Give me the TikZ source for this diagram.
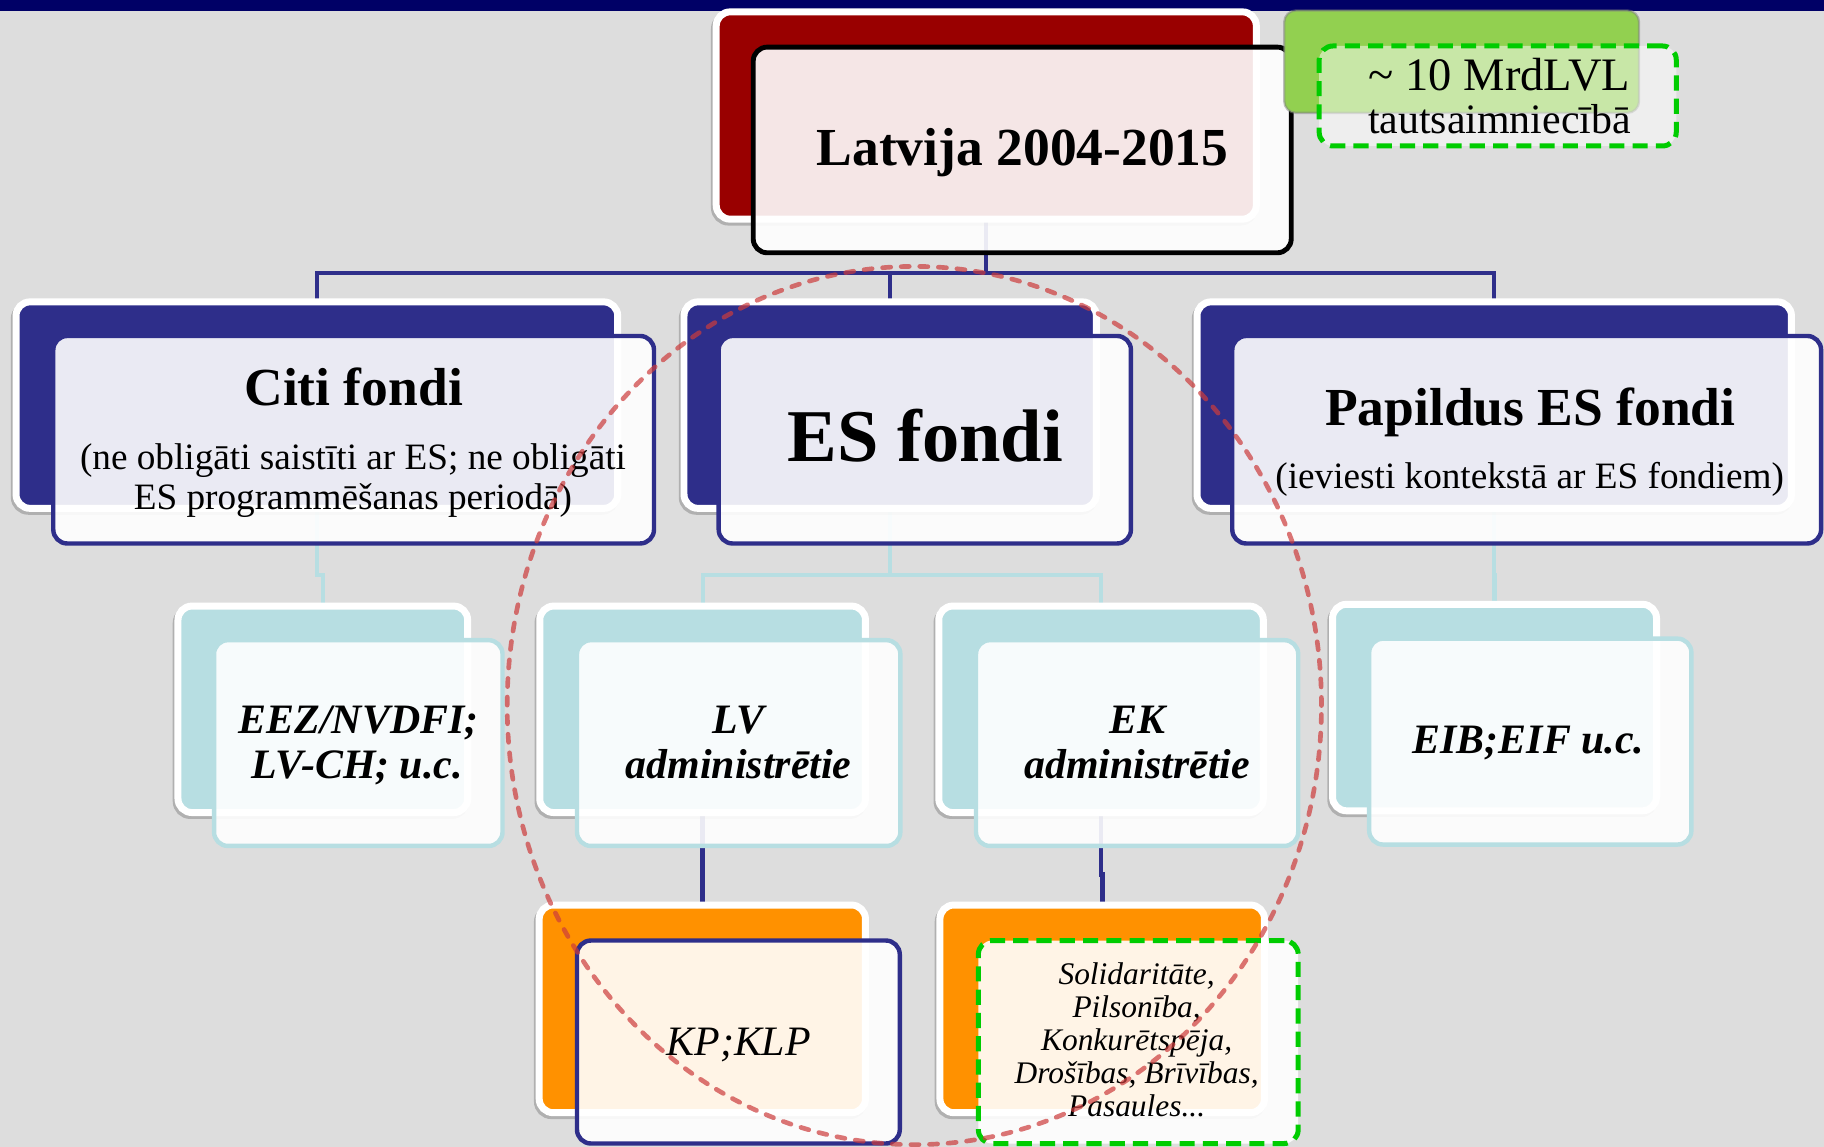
\documentclass[tikz,border=0pt]{standalone}
\usepackage{fontspec}
\setmainfont{Liberation Serif}
\usetikzlibrary{shadows}
\pgfdeclarelayer{bgl}
\pgfdeclarelayer{conn}
\pgfsetlayers{bgl,conn,main}
\definecolor{navybar}{RGB}{0,0,102}
\definecolor{bggray}{RGB}{221,221,221}
\definecolor{navyb}{RGB}{46,46,138}
\definecolor{darkredb}{RGB}{153,0,0}
\definecolor{lgreen}{RGB}{146,208,80}
\definecolor{dgreen}{RGB}{0,204,0}
\definecolor{cyanb}{RGB}{183,222,226}
\definecolor{orangeb}{RGB}{255,145,0}
\definecolor{circred}{RGB}{204,60,60}
\newcommand{\myfs}[1]{\fontsize{#1}{#1}\selectfont}
\newcommand{\mybox}[6]{\node[#1, minimum width={#4-#2}, minimum height={#5-#3}] (#6) at ({(#2+#4)/2},{(#3+#5)/2}) {};}
\tikzset{
 shape box/.style={rectangle, rounded corners=12pt, inner sep=0pt, outer sep=0pt},
 backbox/.style={shape box, draw=white, line width=6pt, drop shadow={shadow xshift=-1.5pt, shadow yshift=-2.5pt, opacity=0.2, fill=black, draw=black, line width=6pt}},
 frontbox/.style={shape box, line width=3.8pt, fill=white, fill opacity=0.9},
 txt/.style={anchor=base, inner sep=0pt, outer sep=0pt, text=black},
 navyline/.style={draw=navyb, line width=3.5pt},
 cyanline/.style={draw=cyanb, line width=3.5pt},
 greendash/.style={draw=dgreen, line width=4.3pt, dash pattern=on 13pt off 7pt},
}
\begin{document}
\begin{tikzpicture}[x=1pt,y=-1pt]
\useasboundingbox (0,0) rectangle (1568,986);
\begin{pgfonlayer}{bgl}
\fill[bggray] (0,0) rectangle (1568,986);
\fill[navybar] (0,0) rectangle (1568,9.2);
\end{pgfonlayer}
% top
\mybox{backbox, fill=darkredb}{615.7}{10.2}{1080}{188.4}{topB}
\mybox{frontbox, draw=black, line width=4.2pt}{647.5}{40.5}{1110}{217.3}{topF}
% green
\mybox{shape box, rounded corners=10pt, fill=lgreen, draw=gray, draw opacity=0.5, line width=2pt}{1104}{9}{1409}{97}{grB}
\mybox{shape box, greendash, fill=white, fill opacity=0.5}{1134}{39.5}{1441}{125.5}{grF}
% level 2
\mybox{backbox, fill=navyb}{13.8}{259.5}{531}{437}{citiB}
\mybox{frontbox, draw=navyb}{45.8}{288.8}{562.2}{467.2}{citiF}
\mybox{backbox, fill=navyb}{588}{259.5}{942.5}{437}{esB}
\mybox{frontbox, draw=navyb}{617.8}{288.8}{972.2}{467.2}{esF}
\mybox{backbox, fill=navyb}{1029}{259.5}{1540}{437}{papB}
\mybox{frontbox, draw=navyb}{1059.3}{288.8}{1565.5}{467.2}{papF}
% level 3
\mybox{backbox, fill=cyanb}{153}{521}{402}{698.5}{eezB}
\mybox{frontbox, draw=cyanb}{184}{550.3}{432}{727.2}{eezF}
\mybox{backbox, fill=cyanb}{464}{521}{744}{698.5}{lvB}
\mybox{frontbox, draw=cyanb}{496}{550.3}{774}{727.2}{lvF}
\mybox{backbox, fill=cyanb}{807}{521}{1086}{698.5}{ekB}
\mybox{frontbox, draw=cyanb}{839}{550.3}{1116}{727.2}{ekF}
\mybox{backbox, fill=cyanb}{1145.5}{519.5}{1424}{697}{eibB}
\mybox{frontbox, draw=cyanb}{1177}{549}{1454}{726}{eibF}
% level 4
\mybox{backbox, fill=orangeb}{463.5}{778}{744}{956.5}{kpB}
\mybox{frontbox, draw=navyb}{496}{808.5}{773.5}{983}{kpF}
\mybox{backbox, fill=orangeb}{808}{778}{1087}{956.5}{solB}
\mybox{frontbox, greendash}{841}{808.5}{1116}{983}{solF}
% connectors
\coordinate (bus1) at (0,235);
\coordinate (bus2) at (0,494);
\coordinate (bus3) at (0,752);
\begin{pgfonlayer}{conn}
\draw[navyline] (topB.south) -- (topB.south |- bus1) -| (citiB.north);
\draw[navyline] (topB.south |- bus1) -| (esB.north);
\draw[navyline] (topB.south |- bus1) -| (papB.north);
\draw[cyanline] (citiB.south) -- (citiB.south |- bus2) -| (eezB.north);
\draw[cyanline] (esB.south) -- (esB.south |- bus2) -| (lvB.north);
\draw[cyanline] (esB.south |- bus2) -| (ekB.north);
\draw[cyanline] (papB.south) -- (papB.south |- bus2) -| (eibB.north);
\draw[navyline, line width=4pt] (lvB.south) -- (lvB.south |- bus3) -| (kpB.north);
\draw[navyline, line width=4pt] (ekB.south) -- (ekB.south |- bus3) -| (solB.north);
\end{pgfonlayer}
% texts
\node[txt, font=\myfs{46}\bfseries] (tL) at (879,142) {Latvija 2004-2015};
\node[txt, font=\myfs{40}] (tG1) at (1289,77.4) {\textasciitilde{} 10 MrdLVL};
\node[txt, font=\myfs{36}] (tG2) at (1289,114.6) {tautsaimniecībā};
\node[txt, font=\myfs{46}\bfseries] (tC1) at (304,349) {Citi fondi};
\node[txt, font=\myfs{32}] (tC2) at (303.4,403.5) {(ne obligāti saistīti ar ES; ne obligāti};
\node[txt, font=\myfs{32}] (tC3) at (303.4,437.8) {ES programmēšanas periodā)};
\node[txt, font=\myfs{64}\bfseries] (tE) at (795.3,397) {ES fondi};
\node[txt, font=\myfs{46}\bfseries] (tP1) at (1315.6,366) {Papildus ES fondi};
\node[txt, font=\myfs{32}] (tP2) at (1315,419.8) {(ieviesti kontekstā ar ES fondiem)};
\node[txt, font=\myfs{36}\bfseries\itshape] (tZ1) at (308.3,630.4) {EEZ/NVDFI;};
\node[txt, font=\myfs{36}\bfseries\itshape] (tZ2) at (307,669) {LV-CH; u.c.};
\node[txt, font=\myfs{36}\bfseries\itshape] (tLV1) at (635,630.4) {LV};
\node[txt, font=\myfs{36}\bfseries\itshape] (tLV2) at (635,669) {administrētie};
\node[txt, font=\myfs{36}\bfseries\itshape] (tEK1) at (977.5,630.4) {EK};
\node[txt, font=\myfs{36}\bfseries\itshape] (tEK2) at (977.5,669) {administrētie};
\node[txt, font=\myfs{36}\bfseries\itshape] (tEIB) at (1314,647.6) {EIB;EIF u.c.};
\node[txt, font=\myfs{36}\itshape] (tKP) at (635,907) {KP;KLP};
\node[txt, font=\myfs{27}\itshape] (tS1) at (977.1,846.7) {Solidaritāte,};
\node[txt, font=\myfs{27}\itshape] (tS2) at (977.1,875) {Pilsonība,};
\node[txt, font=\myfs{27}\itshape] (tS3) at (977.1,903.3) {Konkurētspēja,};
\node[txt, font=\myfs{27}\itshape] (tS4) at (977.1,931.7) {Drošības, Brīvības,};
\node[txt, font=\myfs{27}\itshape] (tS5) at (977.1,960) {Pasaules...};
% dashed circle
\draw[circred, draw opacity=0.7, line width=4pt, dash pattern=on 7pt off 9pt, line cap=round] (786,606.5) ellipse [x radius=350pt, y radius=377.5pt];
\end{tikzpicture}
\end{document}
